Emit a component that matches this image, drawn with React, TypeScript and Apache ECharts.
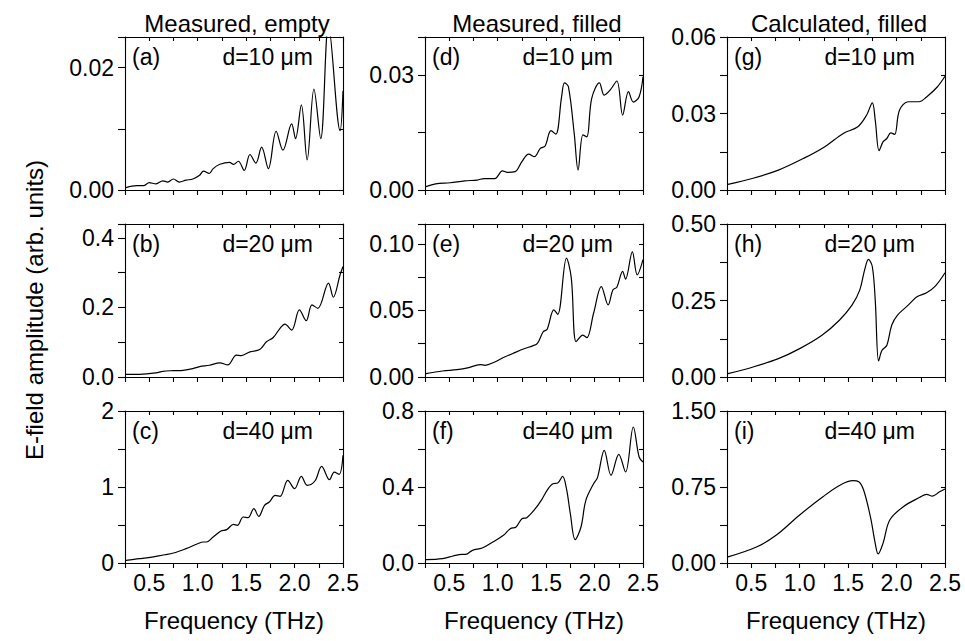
import React, { useEffect, useRef } from 'react';
import * as echarts from 'echarts';

// ---- Data ----
const aFreq = [0.26, 0.37, 0.44, 0.5, 0.57, 0.64, 0.69, 0.75, 0.81, 0.88, 0.95, 1.02, 1.06, 1.12, 1.16, 1.23, 1.33, 1.37, 1.42, 1.48, 1.54, 1.6, 1.66, 1.73, 1.81, 1.88, 1.97, 2.01, 2.07, 2.13, 2.2, 2.27, 2.35, 2.47, 2.5];
const aAmp = [0.0004, 0.0007, 0.0007, 0.0012, 0.001, 0.0015, 0.0013, 0.0018, 0.0013, 0.0016, 0.0018, 0.0024, 0.0031, 0.0027, 0.0035, 0.0042, 0.0045, 0.0042, 0.0047, 0.0032, 0.0058, 0.0044, 0.007, 0.0035, 0.0096, 0.0065, 0.0108, 0.0084, 0.0139, 0.0049, 0.0165, 0.0084, 0.027, 0.0097, 0.0162];

const bFreq = [0.26, 0.4, 0.57, 0.64, 0.75, 0.85, 0.95, 1.02, 1.12, 1.23, 1.31, 1.4, 1.45, 1.54, 1.64, 1.71, 1.78, 1.85, 1.9, 1.97, 2.05, 2.12, 2.18, 2.24, 2.35, 2.4, 2.47, 2.5];
const bAmp = [0.0077, 0.0077, 0.0116, 0.0164, 0.0183, 0.0193, 0.0241, 0.0299, 0.0337, 0.0405, 0.0347, 0.0627, 0.0617, 0.0723, 0.079, 0.1012, 0.1137, 0.1398, 0.1523, 0.1349, 0.1928, 0.1619, 0.2072, 0.1976, 0.2699, 0.2294, 0.294, 0.318];

const cFreq = [0.26, 0.4, 0.57, 0.75, 0.88, 1.0, 1.06, 1.09, 1.16, 1.24, 1.3, 1.37, 1.41, 1.47, 1.52, 1.58, 1.63, 1.69, 1.74, 1.8, 1.85, 1.93, 2.0, 2.07, 2.13, 2.21, 2.28, 2.36, 2.41, 2.46, 2.5];
const cAmp = [0.035, 0.057, 0.088, 0.132, 0.189, 0.254, 0.276, 0.276, 0.342, 0.421, 0.439, 0.509, 0.496, 0.605, 0.596, 0.715, 0.614, 0.759, 0.803, 0.89, 0.877, 1.088, 0.978, 1.14, 1.022, 1.079, 1.272, 1.096, 1.197, 1.167, 1.417];

const dFreq = [0.26, 0.36, 0.51, 0.66, 0.79, 0.86, 0.97, 1.05, 1.1, 1.18, 1.25, 1.32, 1.38, 1.44, 1.49, 1.55, 1.6, 1.66, 1.69, 1.73, 1.79, 1.83, 1.88, 1.92, 1.97, 2.05, 2.1, 2.16, 2.23, 2.29, 2.35, 2.4, 2.46, 2.5];
const dAmp = [0.0009, 0.0016, 0.0019, 0.0024, 0.0026, 0.003, 0.003, 0.005, 0.0046, 0.0048, 0.0074, 0.0094, 0.0087, 0.0109, 0.0115, 0.0155, 0.0146, 0.0244, 0.028, 0.027, 0.0148, 0.0052, 0.0144, 0.0139, 0.0239, 0.028, 0.0248, 0.0261, 0.0285, 0.0196, 0.0257, 0.023, 0.0244, 0.0296];

const eFreq = [0.26, 0.43, 0.58, 0.69, 0.82, 0.87, 0.97, 1.06, 1.17, 1.28, 1.36, 1.41, 1.47, 1.51, 1.58, 1.62, 1.71, 1.76, 1.81, 1.88, 1.92, 1.99, 2.07, 2.14, 2.19, 2.23, 2.29, 2.32, 2.39, 2.44, 2.5];
const eAmp = [0.0025, 0.0045, 0.0055, 0.0068, 0.0093, 0.0088, 0.0113, 0.0146, 0.0181, 0.0214, 0.0234, 0.0252, 0.034, 0.0358, 0.0504, 0.0471, 0.0894, 0.0743, 0.0265, 0.0315, 0.0295, 0.0479, 0.068, 0.0542, 0.0655, 0.0675, 0.0794, 0.0736, 0.094, 0.0768, 0.0882];

const fFreq = [0.26, 0.43, 0.54, 0.63, 0.67, 0.74, 0.84, 0.95, 1.06, 1.13, 1.19, 1.25, 1.3, 1.38, 1.45, 1.51, 1.57, 1.62, 1.67, 1.71, 1.75, 1.8, 1.86, 1.91, 1.99, 2.03, 2.1, 2.17, 2.25, 2.32, 2.4, 2.46, 2.5];
const fAmp = [0.0175, 0.0228, 0.0368, 0.0456, 0.0456, 0.0667, 0.0789, 0.1105, 0.1456, 0.1807, 0.1895, 0.2333, 0.2386, 0.2807, 0.3298, 0.3825, 0.4175, 0.4211, 0.4561, 0.3912, 0.2596, 0.1228, 0.1895, 0.3298, 0.4175, 0.4491, 0.593, 0.4614, 0.5719, 0.4789, 0.7158, 0.5579, 0.5316];

const gFreq = [0.26, 0.52, 0.78, 1.04, 1.26, 1.45, 1.6, 1.69, 1.75, 1.78, 1.82, 1.86, 1.9, 1.94, 1.98, 2.03, 2.12, 2.23, 2.31, 2.42, 2.5];
const gAmp = [0.0022, 0.0046, 0.0078, 0.0124, 0.017, 0.0222, 0.0248, 0.0293, 0.0342, 0.0274, 0.0154, 0.0189, 0.0202, 0.0224, 0.0218, 0.0313, 0.0346, 0.0346, 0.0365, 0.0404, 0.0446];

const hFreq = [0.26, 0.52, 0.78, 1.0, 1.23, 1.41, 1.54, 1.62, 1.67, 1.71, 1.75, 1.78, 1.815, 1.85, 1.9, 1.95, 2.01, 2.12, 2.21, 2.31, 2.4, 2.5];
const hAmp = [0.0109, 0.0328, 0.06, 0.0928, 0.1365, 0.1856, 0.2347, 0.2838, 0.3493, 0.3843, 0.3603, 0.2511, 0.0524, 0.0873, 0.1037, 0.1692, 0.202, 0.2347, 0.262, 0.2751, 0.2969, 0.3406];

const iFreq = [0.26, 0.56, 0.76, 1.0, 1.24, 1.42, 1.55, 1.61, 1.66, 1.73, 1.78, 1.81, 1.86, 1.93, 2.07, 2.24, 2.31, 2.37, 2.44, 2.5];
const iAmp = [0.06, 0.16, 0.276, 0.474, 0.654, 0.77, 0.812, 0.802, 0.72, 0.457, 0.194, 0.09, 0.194, 0.424, 0.556, 0.648, 0.678, 0.66, 0.7, 0.73];

// y-axis ranges, tick steps, labels
const yMaxes = [0.025, 0.44, 2, 0.04, 0.115, 0.8, 0.06, 0.5, 1.5];
const ySteps = [0.01, 0.1, 0.5, 0.015, 0.025, 0.2, 0.015, 0.125, 0.375];
const yLabelValues = [
  [0, 0.02], [0, 0.2, 0.4], [0, 1, 2],
  [0, 0.03], [0, 0.05, 0.1], [0, 0.4, 0.8],
  [0, 0.03, 0.06], [0, 0.25, 0.5], [0, 0.75, 1.5],
];
const yDecimals = [2, 1, 0, 2, 2, 1, 2, 2, 2];

const xMin = 0.25;
const xMax = 2.5;
const xStep = 0.25;

const panelTags = ['(a)', '(b)', '(c)', '(d)', '(e)', '(f)', '(g)', '(h)', '(i)'];
const thicknessTags = ['d=10 μm', 'd=20 μm', 'd=40 μm'];
const columnTitles = ['Measured, empty', 'Measured, filled', 'Calculated, filled'];
const xTitle = 'Frequency (THz)';
const yTitle = 'E-field amplitude (arb. units)';

const freqs = [aFreq, bFreq, cFreq, dFreq, eFreq, fFreq, gFreq, hFreq, iFreq];
const amps = [aAmp, bAmp, cAmp, dAmp, eAmp, fAmp, gAmp, hAmp, iAmp];

// ---- Layout ----
const COL_LEFT = [125, 425, 727];
const COL_W = 218;
const ROW_TOP = [37, 224, 411];
const ROW_H = [153, 153, 152];
const FONT = "'Liberation Sans', Arial, Helvetica, sans-serif";

export default function App() {
  const ref = useRef<HTMLDivElement>(null);

  useEffect(() => {
    if (!ref.current) return;
    const chart = echarts.init(ref.current, undefined, { renderer: 'svg' });

    const lineStyle = { color: '#000', width: 1.1 };
    const grids: any[] = [];
    const xAxes: any[] = [];
    const yAxes: any[] = [];
    const series: any[] = [];
    const graphic: any[] = [];

    for (let i = 0; i < 9; i++) {
      const col = Math.floor(i / 3);
      const row = i % 3;
      grids.push({ left: COL_LEFT[col], top: ROW_TOP[row], width: COL_W, height: ROW_H[row] });
      const xBase = {
        gridIndex: i, type: 'value', min: xMin, max: xMax, interval: xStep,
        splitLine: { show: false },
        axisLine: { show: true, onZero: false, lineStyle },
      };
      xAxes.push({
        ...xBase, position: 'bottom',
        axisTick: { show: true, inside: false, length: 5, lineStyle },
        axisLabel: {
          show: row === 2, margin: 8, fontSize: 23, color: '#000', fontFamily: FONT,
          formatter: (v: number) => {
            const k = Math.round(v * 4);
            return k % 2 === 0 && k >= 2 ? v.toFixed(1) : '';
          },
        },
      });
      xAxes.push({
        ...xBase, position: 'top',
        axisTick: { show: true, inside: true, length: 4, lineStyle },
        axisLabel: { show: false },
      });
      const yBase = {
        gridIndex: i, type: 'value', min: 0, max: yMaxes[i], interval: ySteps[i],
        splitLine: { show: false },
        axisLine: { show: true, onZero: false, lineStyle },
      };
      const labs = yLabelValues[i];
      const dec = yDecimals[i];
      yAxes.push({
        ...yBase, position: 'left',
        axisTick: { show: true, inside: false, length: 7, lineStyle },
        axisLabel: {
          show: true, margin: 11, fontSize: 23, color: '#000', fontFamily: FONT,
          formatter: (v: number) => (labs.some((l) => Math.abs(l - v) < 1e-9) ? v.toFixed(dec) : ''),
        },
      });
      yAxes.push({
        ...yBase, position: 'right',
        axisTick: { show: true, inside: true, length: 4, lineStyle },
        axisLabel: { show: false },
      });
      series.push({
        type: 'line',
        xAxisIndex: 2 * i,
        yAxisIndex: 2 * i,
        data: freqs[i].map((f, j) => [f, amps[i][j]]),
        symbol: 'none',
        smooth: 0.35,
        clip: true,
        lineStyle: { color: '#000', width: 1.2 },
      });
      graphic.push({
        type: 'text', x: COL_LEFT[col] + 7, y: ROW_TOP[row] + 20,
        style: { text: panelTags[i], fontSize: 23, fontFamily: FONT, fill: '#000', align: 'left', verticalAlign: 'middle', textAlign: 'left', textVerticalAlign: 'middle' },
      });
      graphic.push({
        type: 'text', x: COL_LEFT[col] + COL_W - 30, y: ROW_TOP[row] + 20,
        style: { text: thicknessTags[row], fontSize: 23, fontFamily: FONT, fill: '#000', align: 'right', verticalAlign: 'middle', textAlign: 'right', textVerticalAlign: 'middle' },
      });
    }

    for (let c = 0; c < 3; c++) {
      graphic.push({
        type: 'text', x: COL_LEFT[c] + COL_W / 2 + 3, y: 23,
        style: { text: columnTitles[c], fontSize: 24, fontFamily: FONT, fill: '#000', align: 'center', verticalAlign: 'middle', textAlign: 'center', textVerticalAlign: 'middle' },
      });
      graphic.push({
        type: 'text', x: COL_LEFT[c] + COL_W / 2, y: 620,
        style: { text: xTitle, fontSize: 24, fontFamily: FONT, fill: '#000', align: 'center', verticalAlign: 'middle', textAlign: 'center', textVerticalAlign: 'middle' },
      });
    }
    graphic.push({
      type: 'text', x: 34, y: 310, rotation: Math.PI / 2,
      style: { text: yTitle, fontSize: 24, fontFamily: FONT, fill: '#000', align: 'center', verticalAlign: 'middle', textAlign: 'center', textVerticalAlign: 'middle' },
    });

    chart.setOption({
      animation: false,
      backgroundColor: '#fff',
      grid: grids,
      xAxis: xAxes,
      yAxis: yAxes,
      series,
      graphic,
    });

    return () => chart.dispose();
  }, []);

  return <div ref={ref} style={{ position: 'fixed', left: 0, top: 0, width: 965, height: 641 }} />;
}
